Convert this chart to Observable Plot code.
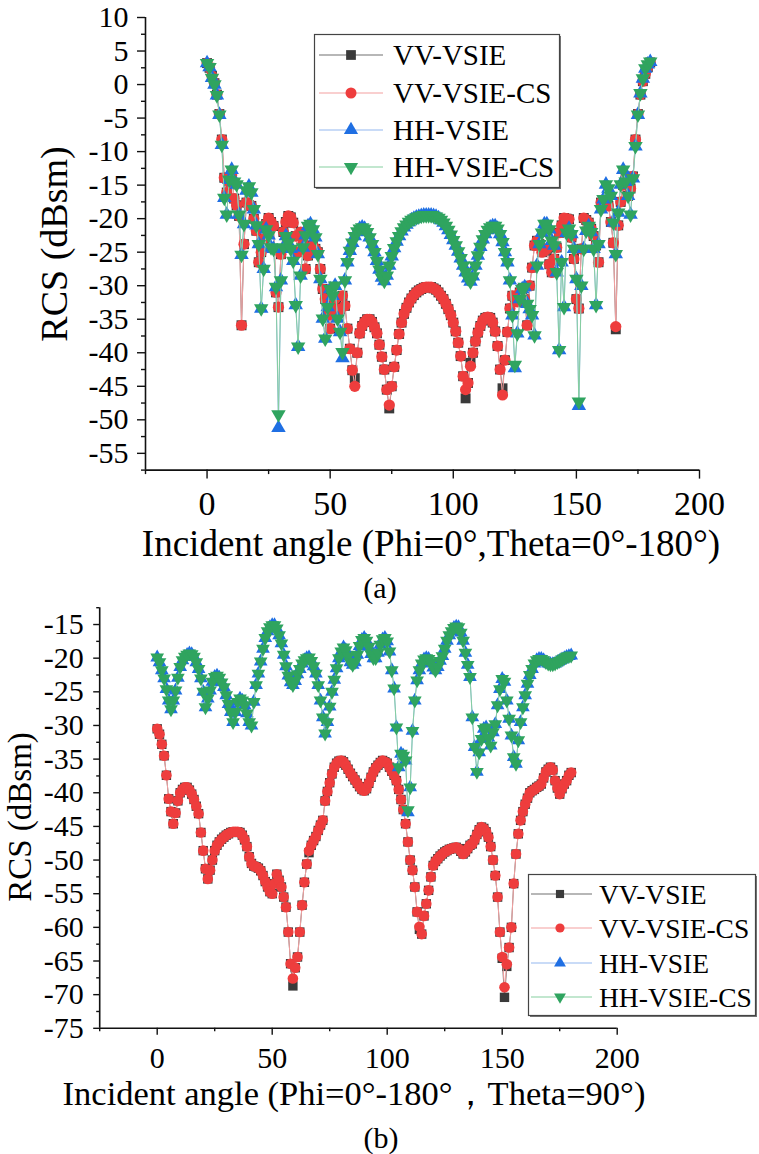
<!DOCTYPE html>
<html><head><meta charset="utf-8">
<script src="https://cdn.jsdelivr.net/npm/d3@7"></script>
<script src="https://cdn.jsdelivr.net/npm/@observablehq/plot@0.6"></script>
<style>
body{margin:0;background:#fff;}
#fig{position:relative;width:759px;height:1154px;overflow:hidden;background:#fff;}
#fig > svg{position:absolute;left:0;}
#fig svg text{font-family:"Liberation Serif","Times New Roman",serif !important;}
</style></head><body><div id="fig"></div>
<script>
// ---------- data ----------
const angles = d3.range(0, 181); // sampled incident angle, degrees
const seriesNames = ["VV-VSIE", "VV-VSIE-CS", "HH-VSIE", "HH-VSIE-CS"];

// panel (a): Phi=0°, Theta=0°-180°
const a_VV_VSIE = [3.2,2.5,1.3,0.2,-1.5,-4.4,-8.2,-13.9,-16.1,-14.5,
-13.5,-17.0,-18.0,-19.6,-35.9,-23.8,-17.6,-18.0,-18.1,-20.0,
-21.8,-26.5,-25.0,-23.0,-20.8,-19.9,-20.5,-21.1,-31.0,-33.2,
-25.3,-22.0,-20.5,-19.6,-19.8,-20.6,-22.6,-25.0,-22.0,-23.6,
-27.5,-25.5,-24.5,-24.0,-24.5,-25.0,-27.5,-30.5,-32.0,-34.4,
-36.4,-33.0,-32.0,-34.0,-33.5,-31.5,-33.0,-36.4,-39.4,-42.6,
-43.8,-40.0,-37.1,-36.0,-35.4,-35.0,-35.0,-35.4,-36.2,-37.1,
-38.8,-40.6,-42.5,-45.5,-48.3,-45.0,-42.1,-39.6,-37.2,-35.5,
-34.2,-33.3,-32.5,-31.9,-31.4,-31.0,-30.7,-30.5,-30.3,-30.2,
-30.2,-30.2,-30.4,-30.6,-31.0,-31.5,-32.0,-32.7,-33.5,-34.4,
-35.5,-36.8,-38.5,-40.5,-43.5,-46.8,-44.5,-41.5,-40.0,-38.3,
-37.0,-36.0,-35.2,-34.8,-34.7,-34.8,-35.5,-36.8,-39.0,-42.5,
-45.3,-41.1,-36.9,-33.4,-31.5,-31.8,-32.4,-31.0,-30.5,-32.0,
-35.9,-30.0,-27.3,-24.0,-23.3,-23.8,-25.0,-24.8,-24.5,-26.8,
-28.0,-26.0,-24.3,-22.1,-21.0,-19.9,-20.0,-20.1,-22.8,-26.0,
-32.0,-33.4,-24.5,-19.9,-20.2,-20.6,-21.5,-22.6,-24.0,-26.5,
-17.6,-18.0,-17.8,-18.1,-20.5,-23.6,-36.5,-21.0,-17.5,-15.0,
-14.0,-16.6,-15.5,-13.7,-8.2,-4.4,-1.5,0.5,1.6,2.6,
3.3];
const a_VV_VSIE_CS = [3.2,2.5,1.3,0.2,-1.5,-4.4,-8.2,-13.9,-16.1,-14.5,
-13.5,-17.0,-18.0,-19.6,-35.9,-23.8,-17.6,-18.0,-18.1,-20.0,
-21.8,-26.5,-25.0,-23.0,-20.8,-19.9,-20.5,-21.1,-31.0,-33.2,
-25.3,-22.0,-20.5,-19.6,-19.8,-20.6,-22.6,-25.0,-22.0,-23.6,
-27.5,-25.5,-24.5,-24.0,-24.5,-25.0,-27.5,-30.5,-32.0,-34.4,
-36.4,-33.0,-32.0,-34.0,-33.5,-31.5,-33.0,-36.4,-39.4,-42.6,
-45.0,-40.0,-37.1,-36.0,-35.4,-35.0,-35.0,-35.4,-36.2,-37.1,
-38.8,-40.6,-42.5,-45.5,-47.8,-45.0,-42.1,-39.6,-37.2,-35.5,
-34.2,-33.3,-32.5,-31.9,-31.4,-31.0,-30.7,-30.5,-30.3,-30.2,
-30.2,-30.2,-30.4,-30.6,-31.0,-31.5,-32.0,-32.7,-33.5,-34.4,
-35.5,-36.8,-38.5,-40.5,-43.5,-45.5,-44.5,-42.0,-40.0,-38.3,
-37.0,-36.0,-35.2,-34.8,-34.7,-34.8,-35.5,-36.8,-39.0,-42.5,
-46.3,-41.1,-36.9,-33.4,-31.5,-31.8,-32.4,-31.0,-30.5,-32.0,
-35.9,-30.0,-27.3,-24.0,-23.3,-23.8,-25.0,-24.8,-24.5,-26.8,
-28.0,-26.0,-24.3,-22.1,-21.0,-19.9,-20.0,-20.1,-22.8,-26.0,
-32.0,-33.4,-24.5,-19.9,-20.2,-20.6,-21.5,-22.6,-24.0,-26.5,
-17.6,-18.0,-17.8,-18.1,-20.5,-23.6,-36.1,-21.0,-17.5,-15.0,
-14.0,-16.6,-15.5,-13.7,-8.2,-4.4,-1.5,0.5,1.6,2.6,
3.3];
const a_HH_VSIE = [3.2,2.6,1.0,0.0,-1.6,-4.5,-9.0,-16.9,-19.4,-14.2,
-12.7,-14.5,-14.9,-19.4,-25.4,-20.8,-15.8,-15.2,-16.1,-18.6,
-21.0,-23.8,-33.4,-27.5,-21.6,-22.5,-24.3,-24.5,-30.2,-51.2,
-29.2,-24.3,-22.6,-23.6,-24.5,-26.3,-32.9,-39.1,-28.5,-24.3,
-22.5,-21.1,-20.8,-21.6,-22.8,-25.3,-29.0,-34.9,-37.9,-33.2,
-30.5,-31.5,-30.0,-34.9,-36.9,-40.8,-29.2,-26.5,-24.8,-23.6,
-22.6,-21.9,-21.5,-21.3,-21.5,-22.0,-22.8,-23.8,-25.0,-26.3,
-27.6,-28.8,-29.3,-28.5,-27.0,-25.6,-24.4,-23.4,-22.6,-21.9,
-21.3,-20.9,-20.5,-20.2,-20.0,-19.8,-19.7,-19.6,-19.5,-19.5,
-19.5,-19.5,-19.6,-19.7,-19.9,-20.2,-20.6,-21.1,-21.7,-22.4,
-23.2,-24.0,-24.9,-25.9,-27.0,-28.0,-28.9,-29.4,-28.6,-27.0,
-25.5,-24.2,-23.1,-22.3,-21.7,-21.3,-21.1,-21.1,-21.5,-22.3,
-23.5,-25.0,-26.5,-29.2,-34.4,-42.3,-37.1,-32.0,-30.5,-30.2,
-32.7,-33.5,-34.4,-37.4,-27.0,-23.8,-22.1,-20.8,-20.8,-21.6,
-23.3,-24.0,-28.0,-39.6,-26.5,-33.2,-22.1,-21.5,-22.3,-24.5,
-29.0,-47.9,-30.0,-24.5,-21.8,-21.1,-22.0,-24.5,-32.9,-23.8,
-18.6,-17.1,-14.9,-15.5,-16.6,-20.6,-25.3,-19.1,-14.9,-12.7,
-14.5,-16.6,-19.4,-14.0,-9.2,-4.5,-1.3,0.9,2.4,3.0,
3.4];
const a_HH_VSIE_CS = [3.2,2.6,1.0,0.0,-1.6,-4.5,-9.0,-16.9,-19.4,-14.2,
-12.7,-14.5,-14.9,-19.4,-25.4,-20.8,-15.8,-15.2,-16.1,-18.6,
-21.0,-23.8,-33.4,-27.5,-21.6,-22.5,-24.3,-24.5,-30.2,-49.2,
-29.2,-24.3,-22.6,-23.6,-24.5,-26.3,-32.9,-39.1,-28.5,-24.3,
-22.5,-21.1,-20.8,-21.6,-22.8,-25.3,-29.0,-34.9,-37.9,-33.2,
-30.5,-31.5,-30.0,-34.9,-36.9,-39.9,-29.2,-26.5,-24.8,-23.6,
-22.6,-21.9,-21.5,-21.3,-21.5,-22.0,-22.8,-23.8,-25.0,-26.3,
-27.6,-28.8,-29.3,-28.5,-27.0,-25.6,-24.4,-23.4,-22.6,-21.9,
-21.3,-20.9,-20.5,-20.2,-20.0,-19.8,-19.7,-19.6,-19.5,-19.5,
-19.5,-19.5,-19.6,-19.7,-19.9,-20.2,-20.6,-21.1,-21.7,-22.4,
-23.2,-24.0,-24.9,-25.9,-27.0,-28.0,-28.9,-29.4,-28.6,-27.0,
-25.5,-24.2,-23.1,-22.3,-21.7,-21.3,-21.1,-21.1,-21.5,-22.3,
-23.5,-25.0,-26.5,-29.2,-34.4,-41.8,-37.1,-32.0,-30.5,-30.2,
-32.7,-33.5,-34.4,-37.4,-27.0,-23.8,-22.1,-20.8,-20.8,-21.6,
-23.3,-24.0,-28.0,-39.6,-26.5,-33.2,-22.1,-21.5,-22.3,-24.5,
-29.0,-47.3,-30.0,-24.5,-21.8,-21.1,-22.0,-24.5,-32.9,-23.8,
-18.6,-17.1,-14.9,-15.5,-16.6,-20.6,-25.3,-19.1,-14.9,-12.7,
-14.5,-16.6,-19.4,-14.0,-9.2,-4.5,-1.3,0.9,2.4,3.0,
3.4];

// panel (b): Phi=0°-180°, Theta=90°
const b_VV_VSIE = [-30.5,-31.3,-32.8,-34.5,-37.4,-40.9,-42.8,-44.6,-43.0,-41.2,
-40.0,-39.5,-39.2,-39.2,-39.6,-40.2,-41.0,-42.0,-43.1,-45.9,
-48.6,-51.3,-52.8,-51.5,-50.0,-48.6,-47.8,-47.3,-46.9,-46.6,
-46.3,-46.1,-45.9,-45.8,-45.8,-45.8,-45.9,-46.3,-47.0,-48.0,
-49.5,-50.5,-50.9,-51.0,-51.2,-51.6,-52.3,-53.2,-54.0,-54.7,
-55.0,-53.5,-52.1,-53.0,-54.0,-55.5,-57.0,-60.7,-65.4,-68.7,
-66.0,-64.4,-60.7,-56.7,-53.3,-50.6,-48.9,-47.8,-47.1,-46.5,
-45.6,-44.8,-44.1,-41.2,-39.8,-38.5,-37.2,-36.2,-35.6,-35.3,
-35.2,-35.4,-35.9,-36.5,-37.1,-37.6,-38.1,-38.6,-39.1,-39.5,
-39.7,-39.4,-38.6,-37.7,-36.9,-36.3,-35.9,-35.5,-35.2,-35.4,
-35.6,-36.2,-36.8,-37.4,-38.2,-39.5,-41.0,-42.5,-44.6,-47.3,
-50.0,-51.5,-54.0,-57.7,-60.3,-61.0,-58.3,-56.5,-54.5,-52.5,
-50.8,-50.2,-49.8,-49.4,-49.1,-48.8,-48.6,-48.4,-48.3,-48.2,
-48.1,-48.3,-48.7,-49.1,-48.8,-48.3,-47.8,-47.6,-47.0,-46.2,
-45.5,-45.1,-45.3,-45.8,-46.6,-48.0,-50.0,-52.3,-55.5,-60.7,
-64.6,-70.4,-65.8,-63.0,-60.0,-53.5,-49.1,-46.1,-44.1,-42.8,
-41.7,-40.8,-40.0,-39.7,-39.5,-39.2,-39.0,-38.7,-37.8,-36.9,
-36.5,-36.2,-36.6,-38.2,-39.3,-40.2,-39.4,-38.7,-38.2,-37.4,
-37.0];
const b_VV_VSIE_CS = [-30.5,-31.3,-32.8,-34.5,-37.4,-40.9,-42.8,-44.6,-43.0,-41.2,
-40.0,-39.5,-39.2,-39.2,-39.6,-40.2,-41.0,-42.0,-43.1,-45.9,
-48.6,-51.3,-52.8,-51.5,-50.0,-48.6,-47.8,-47.3,-46.9,-46.6,
-46.3,-46.1,-45.9,-45.8,-45.8,-45.8,-45.9,-46.3,-47.0,-48.0,
-49.5,-50.5,-50.9,-51.0,-51.2,-51.6,-52.3,-53.2,-54.0,-54.7,
-55.0,-53.5,-52.1,-53.0,-54.0,-55.5,-57.0,-60.7,-65.4,-67.6,
-66.0,-64.4,-60.7,-56.7,-53.3,-50.6,-48.6,-47.8,-47.1,-46.5,
-45.6,-44.8,-44.1,-41.2,-39.8,-38.5,-37.2,-36.2,-35.6,-35.3,
-35.2,-35.4,-35.9,-36.5,-37.1,-37.6,-38.1,-38.6,-39.1,-39.5,
-39.7,-39.4,-38.6,-37.7,-36.9,-36.3,-35.9,-35.5,-35.2,-35.4,
-35.6,-36.2,-36.8,-37.4,-38.2,-39.5,-41.0,-42.5,-44.6,-47.3,
-50.0,-51.5,-54.0,-57.7,-59.9,-61.0,-58.3,-56.5,-54.5,-52.5,
-50.8,-50.2,-49.8,-49.4,-49.1,-48.8,-48.6,-48.4,-48.3,-48.2,
-48.1,-48.3,-48.7,-49.1,-48.8,-48.3,-47.8,-47.6,-47.0,-46.2,
-45.5,-45.1,-45.3,-45.8,-46.6,-48.0,-50.0,-52.3,-55.5,-60.7,
-64.4,-68.9,-65.5,-63.0,-60.0,-53.5,-49.1,-46.1,-44.1,-42.8,
-41.7,-40.8,-40.0,-39.7,-39.5,-39.2,-39.0,-38.7,-37.8,-36.9,
-36.5,-36.2,-36.6,-38.2,-39.3,-40.2,-39.4,-38.7,-38.2,-37.4,
-37.0];
const b_HH_VSIE = [-19.9,-20.6,-21.8,-23.0,-24.6,-26.3,-27.6,-26.3,-24.8,-22.9,
-21.3,-20.3,-19.8,-19.5,-19.3,-19.4,-19.8,-20.6,-21.6,-23.0,
-25.0,-27.3,-26.0,-24.8,-23.5,-22.8,-22.6,-22.9,-23.6,-24.3,
-25.5,-26.8,-28.0,-29.5,-28.0,-26.5,-26.0,-26.3,-27.0,-28.2,
-29.5,-30.0,-26.5,-24.0,-22.3,-20.5,-18.6,-17.0,-16.0,-15.4,
-15.1,-15.1,-15.6,-16.6,-17.8,-19.5,-21.2,-22.6,-23.6,-24.0,
-23.4,-22.4,-21.6,-20.8,-20.3,-20.0,-19.9,-20.4,-21.2,-22.3,
-24.0,-26.3,-28.8,-31.2,-29.5,-27.2,-25.0,-23.2,-21.5,-20.0,
-19.0,-18.4,-18.8,-19.7,-20.6,-21.0,-20.6,-19.5,-18.2,-17.3,
-17.0,-17.4,-18.3,-19.4,-20.0,-20.0,-19.2,-18.0,-17.2,-17.0,
-17.5,-19.0,-21.8,-24.5,-30.3,-36.2,-34.2,-34.5,-35.2,-42.9,
-39.2,-30.8,-26.3,-23.3,-21.8,-20.8,-20.2,-20.0,-20.1,-20.6,
-21.4,-21.8,-21.3,-20.4,-19.7,-18.6,-17.4,-16.6,-16.0,-15.5,
-15.3,-15.4,-16.2,-17.4,-19.2,-21.0,-22.8,-28.8,-33.2,-36.9,
-34.0,-32.0,-30.5,-30.3,-31.8,-33.0,-31.0,-29.8,-27.0,-24.6,
-23.1,-23.5,-26.3,-29.0,-31.5,-34.7,-35.7,-32.2,-29.5,-27.3,
-25.5,-23.8,-22.5,-21.6,-20.8,-20.3,-20.1,-20.1,-20.3,-20.6,
-20.8,-20.9,-20.9,-20.8,-20.6,-20.4,-20.2,-20.0,-19.8,-19.7,
-19.6];
const b_HH_VSIE_CS = [-19.9,-20.6,-21.8,-23.0,-24.6,-26.3,-27.6,-26.3,-24.8,-22.9,
-21.3,-20.3,-19.8,-19.5,-19.3,-19.4,-19.8,-20.6,-21.6,-23.0,
-25.0,-27.3,-26.0,-24.8,-23.5,-22.8,-22.6,-22.9,-23.6,-24.3,
-25.5,-26.8,-28.0,-29.5,-28.0,-26.5,-26.0,-26.3,-27.0,-28.2,
-29.5,-30.0,-26.5,-24.0,-22.3,-20.5,-18.6,-17.0,-16.0,-15.4,
-15.1,-15.1,-15.6,-16.6,-17.8,-19.5,-21.2,-22.6,-23.6,-24.0,
-23.4,-22.4,-21.6,-20.8,-20.3,-20.0,-19.9,-20.4,-21.2,-22.3,
-24.0,-26.3,-28.8,-31.2,-29.5,-27.2,-25.0,-23.2,-21.5,-20.0,
-19.0,-18.4,-18.8,-19.7,-20.6,-21.0,-20.6,-19.5,-18.2,-17.3,
-17.0,-17.4,-18.3,-19.4,-20.0,-20.0,-19.2,-18.0,-17.2,-17.0,
-17.5,-19.0,-21.8,-24.5,-30.3,-36.2,-34.2,-34.5,-35.2,-42.6,
-39.2,-30.8,-26.3,-23.3,-21.8,-20.8,-20.2,-20.0,-20.1,-20.6,
-21.4,-21.8,-21.3,-20.4,-19.7,-18.6,-17.4,-16.6,-16.0,-15.5,
-15.3,-15.4,-16.2,-17.4,-19.2,-21.0,-22.8,-28.8,-33.2,-36.9,
-34.0,-32.0,-30.5,-30.3,-31.8,-33.0,-31.0,-29.8,-27.0,-24.6,
-23.1,-23.5,-26.3,-29.0,-31.5,-34.7,-35.7,-32.2,-29.5,-27.3,
-25.5,-23.8,-22.5,-21.6,-20.8,-20.3,-20.1,-20.1,-20.3,-20.6,
-20.8,-20.9,-20.9,-20.8,-20.6,-20.4,-20.2,-20.0,-19.8,-19.7,
-19.6];

// tick labels / axis texts
const xTicks = [0, 50, 100, 150, 200];
const xMinorTicks = [-25, 25, 75, 125, 175];
const yTicksA = [10, 5, 0, -5, -10, -15, -20, -25, -30, -35, -40, -45, -50, -55];
const yMinorA = [7.5, 2.5, -2.5, -7.5, -12.5, -17.5, -22.5, -27.5, -32.5, -37.5, -42.5, -47.5, -52.5, -57.5];
const yTicksB = [-15, -20, -25, -30, -35, -40, -45, -50, -55, -60, -65, -70, -75];
const yMinorB = [-12.5, -17.5, -22.5, -27.5, -32.5, -37.5, -42.5, -47.5, -52.5, -57.5, -62.5, -67.5, -72.5];
const yLabel = "RCS (dBsm)";
const xLabelA = "Incident angle (Phi=0°,Theta=0°-180°)";
const xLabelB = "Incident angle (Phi=0°-180°，Theta=90°)";
const panelA = "(a)", panelB = "(b)";

// ---------- styles ----------
const triangleDown = {
  draw(ctx, size) {
    const y = -Math.sqrt(size / (Math.sqrt(3) * 3));
    ctx.moveTo(0, -y * 2);
    ctx.lineTo(-Math.sqrt(3) * y, y);
    ctx.lineTo(Math.sqrt(3) * y, y);
    ctx.closePath();
  }
};
const styles = {
  "VV-VSIE":    {fill: "#3a3a3a", line: "#707070", symbol: "square",   d3sym: d3.symbolSquare,   r: 5},
  "VV-VSIE-CS": {fill: "#ee3d3d", line: "#f4a0a0", symbol: "circle",   d3sym: d3.symbolCircle,   r: 5},
  "HH-VSIE":    {fill: "#1f6fe3", line: "#94b8f0", symbol: "triangle", d3sym: d3.symbolTriangle, r: 4.8},
  "HH-VSIE-CS": {fill: "#2fa45f", line: "#86cf9f", symbol: triangleDown, d3sym: triangleDown,    r: 4.8}
};
const FONT = "Liberation Serif, Times New Roman, serif";

function panel(cfg) {
  const marks = [];
  seriesNames.forEach((name, k) => {
    const vals = cfg.series[k];
    const rows = vals.map((v, i) => ({x: angles[i], y: v}));
    const s = styles[name];
    marks.push(Plot.line(rows, {x: "x", y: "y", stroke: s.line, strokeWidth: 1}));
    marks.push(Plot.dot(rows, {x: "x", y: "y", symbol: s.symbol, r: cfg.r * s.r / 5, fill: s.fill}));
  });
  marks.push(Plot.ruleX([cfg.xDomain[0]], {stroke: "#111", strokeWidth: 1.6}));
  marks.push(Plot.ruleY([cfg.yDomain[0]], {stroke: "#111", strokeWidth: 1.6}));
  marks.push(Plot.axisY(cfg.yTicks, {tickSize: cfg.yTick, tickPadding: cfg.yPad, fontSize: cfg.yFont, tickFormat: d => String(d), label: null, strokeWidth: 1.4, stroke: "#111"}));
  marks.push(Plot.axisY(cfg.yMinor, {tickSize: cfg.yTick / 2, tickFormat: () => "", label: null, strokeWidth: 1.4, stroke: "#111"}));
  marks.push(Plot.axisX(xTicks, {tickSize: cfg.xTick, tickPadding: cfg.xPad, fontSize: cfg.xFont, tickFormat: d => String(d), label: null, strokeWidth: 1.4, stroke: "#111"}));
  marks.push(Plot.axisX(xMinorTicks, {tickSize: cfg.xTick / 2, tickFormat: () => "", label: null, strokeWidth: 1.4, stroke: "#111"}));
  const svg = Plot.plot({
    width: 759, height: cfg.height,
    marginLeft: cfg.ml, marginRight: cfg.mr, marginTop: cfg.mt, marginBottom: cfg.mb,
    x: {domain: cfg.xDomain, label: null},
    y: {domain: cfg.yDomain, label: null},
    style: {fontFamily: FONT, color: "#000", background: "transparent", overflow: "visible"},
    marks
  });
  svg.style.top = cfg.top + "px";
  return svg;
}

const fig = document.getElementById("fig");
fig.appendChild(panel({
  series: [a_VV_VSIE, a_VV_VSIE_CS, a_HH_VSIE, a_HH_VSIE_CS],
  top: 0, height: 560, ml: 145, mr: 60, mt: 17, mb: 90.4,
  xDomain: [-25, 200], yDomain: [-57.5, 10],
  yTicks: yTicksA, yMinor: yMinorA, yTick: 8, yPad: 9, yFont: 30,
  xTick: 9, xPad: 12, xFont: 34, r: 5.6
}));
fig.appendChild(panel({
  series: [b_VV_VSIE, b_VV_VSIE_CS, b_HH_VSIE, b_HH_VSIE_CS],
  top: 600, height: 554, ml: 99.2, mr: 142.3, mt: 7.2, mb: 126.2,
  xDomain: [-25, 200], yDomain: [-75, -12.5],
  yTicks: yTicksB, yMinor: yMinorB, yTick: 6, yPad: 10, yFont: 30,
  xTick: 7, xPad: 11, xFont: 30, r: 5.3
}));

// ---------- overlay: titles & legends ----------
const ov = d3.create("svg").attr("width", 759).attr("height", 1154)
  .style("top", "0px").style("font-family", FONT).style("pointer-events", "none");
ov.append("text").attr("transform", "translate(67,244) rotate(-90)").attr("text-anchor", "middle")
  .attr("font-size", 38).text(yLabel);
ov.append("text").attr("x", 431).attr("y", 556).attr("text-anchor", "middle").attr("font-size", 37).text(xLabelA);
ov.append("text").attr("x", 380).attr("y", 598).attr("text-anchor", "middle").attr("font-size", 30).text(panelA);
ov.append("text").attr("transform", "translate(31,817) rotate(-90)").attr("text-anchor", "middle")
  .attr("font-size", 33).text(yLabel);
ov.append("text").attr("x", 354).attr("y", 1105).attr("text-anchor", "middle").attr("font-size", 34.5).text(xLabelB);
ov.append("text").attr("x", 381).attr("y", 1148).attr("text-anchor", "middle").attr("font-size", 30).text(panelB);

function legend(x, y, w, h, rowY, x0, x1, xs, xt, fs, rs) {
  const g = ov.append("g").attr("transform", `translate(${x},${y})`);
  g.append("rect").attr("x", 2).attr("y", 2).attr("width", w).attr("height", h).attr("fill", "#777");
  g.append("rect").attr("x", 0.5).attr("y", 0.5).attr("width", w).attr("height", h).attr("fill", "#fff").attr("stroke", "#444").attr("stroke-width", 1.2);
  seriesNames.forEach((name, i) => {
    const s = styles[name];
    const yy = rowY[i];
    g.append("line").attr("x1", x0).attr("x2", x1).attr("y1", yy).attr("y2", yy).attr("stroke", s.line).attr("stroke-width", 1.2);
    g.append("path").attr("transform", `translate(${xs},${yy})`).attr("d", d3.symbol(s.d3sym, Math.PI * (rs * s.r / 5) ** 2)()).attr("fill", s.fill);
    g.append("text").attr("x", xt).attr("y", yy).attr("dy", "0.35em").attr("font-size", fs).text(name);
  });
}
legend(314, 34, 245, 153, [21, 59, 96, 133], 5, 69, 37, 79, 29, 5.5);
legend(528, 874, 227, 141, [20, 54, 89, 123], 3, 64, 32, 71, 27.5, 4.6);
fig.appendChild(ov.node());
</script></body></html>
